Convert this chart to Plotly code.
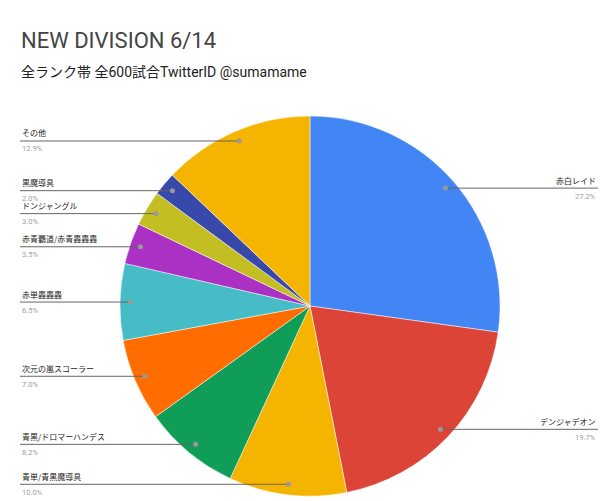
import math
import plotly.graph_objects as go

labels = ["赤白レイド", "デンジャデオン", "青単/青黒魔導具", "青黒/ドロマーハンデス",
          "次元の嵐スコーラー", "赤単轟轟轟", "赤青覇道/赤青轟轟轟", "ドンジャングル",
          "黒魔導具", "その他"]
values = [27.2, 19.7, 10.0, 8.2, 7.0, 6.5, 3.5, 3.0, 2.0, 12.9]
colors = ["#4285F4", "#DB4437", "#F4B400", "#0F9D58", "#FF6D00", "#46BDC6",
          "#AB30C4", "#C2BE23", "#3949AB", "#F4B400"]

W, H = 604, 501
CX, CY, R = 310, 306, 190

def px(x):
    return x / W

def py(y):
    return 1 - y / H

fig = go.Figure(go.Pie(
    labels=labels, values=values, sort=False, direction="clockwise", rotation=0,
    marker=dict(colors=colors, line=dict(color="white", width=0.5)),
    textinfo="none", hoverinfo="label+percent", showlegend=False,
    domain=dict(x=[px(CX - R), px(CX + R)], y=[py(CY + R), py(CY - R)]),
))

total = sum(values)
cum = 0
shapes, annotations = [], []
for lab, v in zip(labels, values):
    mid = (cum + v / 2) / total * 2 * math.pi
    cum += v
    ax = CX + 0.945 * R * math.sin(mid)
    ay = CY - 0.945 * R * math.cos(mid)
    right = math.sin(mid) > 0
    xe = 598 if right else 20
    shapes.append(dict(type="line", xref="paper", yref="paper",
                       x0=px(ax), x1=px(xe), y0=py(ay), y1=py(ay),
                       line=dict(color="#666666", width=1)))
    shapes.append(dict(type="circle", xref="paper", yref="paper",
                       x0=px(ax - 2.5), x1=px(ax + 2.5), y0=py(ay + 2.5), y1=py(ay - 2.5),
                       fillcolor="#999999", line=dict(width=0)))
    anchor = "right" if right else "left"
    annotations.append(dict(x=px(xe), y=py(ay - 0.5), xref="paper", yref="paper",
                            text=lab, showarrow=False, xanchor=anchor, yanchor="bottom",
                            font=dict(size=8, color="#1a1a1a", family="Noto Sans CJK JP")))
    annotations.append(dict(x=px(xe), y=py(ay + 1.5), xref="paper", yref="paper",
                            text=f"{v:.1f}%", showarrow=False, xanchor=anchor, yanchor="top",
                            font=dict(size=7.5, color="#9e9e9e", family="Roboto")))

annotations.append(dict(x=px(19), y=py(41), xref="paper", yref="paper", text="NEW DIVISION 6/14",
                        showarrow=False, xanchor="left", yanchor="middle",
                        font=dict(size=22, color="#444444", family="Roboto")))
annotations.append(dict(x=px(19), y=py(72), xref="paper", yref="paper",
                        text="全ランク帯 全600試合TwitterID @sumamame",
                        showarrow=False, xanchor="left", yanchor="middle",
                        font=dict(size=14, color="#222222", family="Roboto, Noto Sans CJK JP")))

fig.update_layout(width=W, height=H, margin=dict(l=0, r=0, t=0, b=0),
                  paper_bgcolor="white", plot_bgcolor="white",
                  shapes=shapes, annotations=annotations)
fig.write_html("out.html", config={"displayModeBar": False},
               post_script="document.body.style.margin='0';document.body.style.overflow='hidden';")
